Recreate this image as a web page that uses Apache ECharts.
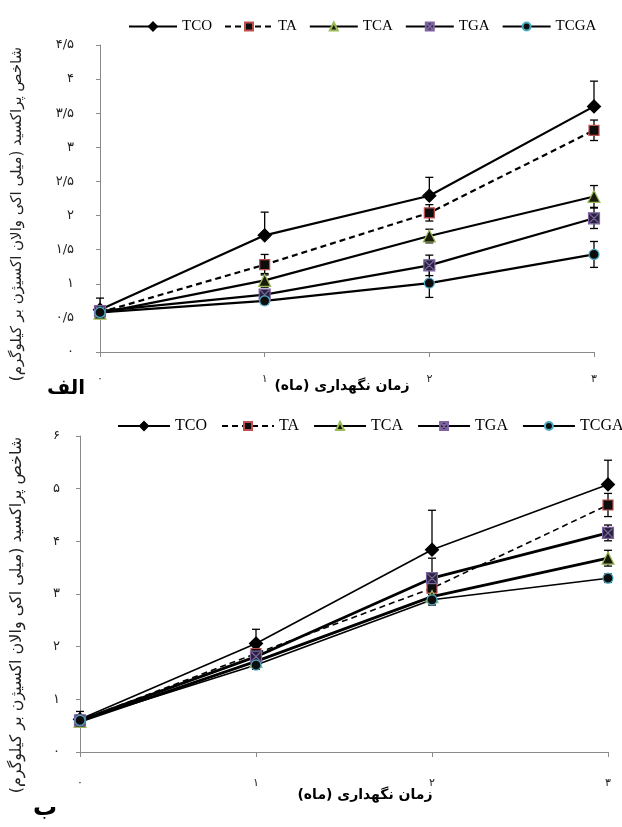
<!DOCTYPE html>
<html><head><meta charset="utf-8">
<script src="https://cdn.jsdelivr.net/npm/echarts@6/dist/echarts.min.js"></script>
<style>html,body{margin:0;padding:0;background:#fff}#c{width:622px;height:827px}</style>
</head><body><div id="c"></div>
<script>
// ---------- data ----------
const months = [0, 1, 2, 3];
const xTickLabels = ['۰', '۱', '۲', '۳'];
const yTickLabelsA = ['۰', '۰/۵', '۱', '۱/۵', '۲', '۲/۵', '۳', '۳/۵', '۴', '۴/۵'];
const yTickLabelsB = ['۰', '۱', '۲', '۳', '۴', '۵', '۶'];
const seriesNames = ['TCO', 'TA', 'TCA', 'TGA', 'TCGA'];

const yTitle = 'شاخص پراکسید (میلی اکی والان اکسیژن بر کیلوگرم)';
const xTitle = 'زمان نگهداری (ماه)';
const panelLabels = ['الف', 'ب'];

// panel A (الف)
const a_TCO = [0.62, 1.71, 2.29, 3.60];
const a_TA = [0.58, 1.28, 2.04, 3.25];
const a_TCA = [0.57, 1.05, 1.70, 2.28];
const a_TGA = [0.60, 0.84, 1.27, 1.96];
const a_TCGA = [0.58, 0.75, 1.01, 1.43];
const a_TCO_err = [0.17, 0.34, 0.27, 0.37];
const a_TA_err = [0.08, 0.15, 0.12, 0.15];
const a_TCA_err = [0.06, 0.10, 0.10, 0.16];
const a_TGA_err = [0.05, 0.05, 0.15, 0.15];
const a_TCGA_err = [0.05, 0.05, 0.21, 0.19];

// panel B (ب)
const b_TCO = [0.62, 2.06, 3.84, 5.08];
const b_TA = [0.60, 1.87, 3.11, 4.69];
const b_TCA = [0.58, 1.72, 2.95, 3.68];
const b_TGA = [0.60, 1.81, 3.30, 4.16];
const b_TCGA = [0.60, 1.65, 2.89, 3.30];
const b_TCO_err = [0.15, 0.27, 0.75, 0.46];
const b_TA_err = [0.10, 0.10, 0.20, 0.22];
const b_TCA_err = [0.05, 0.08, 0.10, 0.15];
const b_TGA_err = [0.05, 0.10, 0.38, 0.15];
const b_TCGA_err = [0.05, 0.08, 0.10, 0.08];

// ---------- styles ----------
const FA = 'DejaVu Sans';
const TGA_SYMBOL = 'path://M0,0L10,0L10,10L0,10Z M1,1L9,9 M9,1L1,9';
const markerStyle = {
  TCO: { symbol: 'diamond', size: 13, color: '#000', border: '#000' },
  TA: { symbol: 'rect', size: 10, color: '#0d0d0d', border: '#c0504d' },
  TCA: { symbol: 'triangle', size: 12, color: '#1a1a0a', border: '#9bbb59' },
  TGA: { symbol: TGA_SYMBOL, size: 11, color: '#26243a', border: '#8064a2' },
  TCGA: { symbol: 'circle', size: 10, color: '#0d0d0d', border: '#4bacc6' }
};
const upOnly = { TCO: true };

const panels = [
  { vals: [a_TCO, a_TA, a_TCA, a_TGA, a_TCGA], errs: [a_TCO_err, a_TA_err, a_TCA_err, a_TGA_err, a_TCGA_err],
    widths: [2.2, 2.2, 2.2, 2.2, 2.2] },
  { vals: [b_TCO, b_TA, b_TCA, b_TGA, b_TCGA], errs: [b_TCO_err, b_TA_err, b_TCA_err, b_TGA_err, b_TCGA_err],
    widths: [1.6, 1.6, 2.8, 2.8, 1.6] }
];

const series = [];
panels.forEach((p, gi) => {
  seriesNames.forEach((name, si) => {
    const vals = p.vals[si], errs = p.errs[si];
    const uo = !!upOnly[name];
    series.push({
      type: 'custom', name: name + '_err' + gi, xAxisIndex: gi, yAxisIndex: gi, silent: true, z: 2,
      data: months.map((m, i) => [m, vals[i], errs[i]]),
      encode: { x: 0, y: 1 },
      renderItem: (params, api) => {
        const x = api.value(0), y = api.value(1), e = api.value(2);
        const top = api.coord([x, y + e]);
        const bot = api.coord([x, uo ? y : y - e]);
        const st = { stroke: '#000', lineWidth: 1.3 };
        const ch = [
          { type: 'line', shape: { x1: top[0], y1: top[1], x2: bot[0], y2: bot[1] }, style: st },
          { type: 'line', shape: { x1: top[0] - 4, y1: top[1], x2: top[0] + 4, y2: top[1] }, style: st }
        ];
        if (!uo) ch.push({ type: 'line', shape: { x1: bot[0] - 4, y1: bot[1], x2: bot[0] + 4, y2: bot[1] }, style: st });
        return { type: 'group', children: ch };
      }
    });
  });
  seriesNames.forEach((name, si) => {
    const ms = markerStyle[name];
    series.push({
      type: 'line', name: name, xAxisIndex: gi, yAxisIndex: gi, z: 3,
      data: months.map((m, i) => [m, p.vals[si][i]]),
      symbol: ms.symbol, symbolSize: ms.size, showAllSymbol: true,
      lineStyle: { color: '#000', width: p.widths[si], type: name === 'TA' ? [6, 4] : 'solid' },
      itemStyle: { color: ms.color, borderColor: ms.border, borderWidth: 1.2 },
      emphasis: { disabled: true }, animation: false
    });
  });
});

const axisGrey = '#8a8a8a';
function xAxis(gi, margin) {
  return {
    type: 'value', gridIndex: gi, min: 0, max: 3, interval: 1,
    axisLine: { lineStyle: { color: axisGrey, width: 1 } },
    axisTick: { show: true, length: 5, lineStyle: { color: axisGrey } },
    splitLine: { show: false },
    axisLabel: { margin: margin, fontFamily: FA, fontSize: 11, color: '#222',
      formatter: v => xTickLabels[Math.round(v)] }
  };
}
function yAxis(gi, max, interval, labels, margin) {
  return {
    type: 'value', gridIndex: gi, min: 0, max: max, interval: interval,
    axisLine: { show: true, lineStyle: { color: axisGrey, width: 1 } },
    axisTick: { show: true, length: 4, lineStyle: { color: axisGrey } },
    splitLine: { show: false },
    axisLabel: { margin: margin, fontFamily: FA, fontSize: 13, color: '#222',
      formatter: v => labels[Math.round(v / interval)] }
  };
}

const legendText = { fontFamily: 'Liberation Serif', color: '#000' };
const option = {
  backgroundColor: '#fff',
  animation: false,
  grid: [
    { left: 100, right: 28, top: 45, bottom: 475 },
    { left: 80, right: 14, top: 436, bottom: 75 }
  ],
  xAxis: [xAxis(0, 22), xAxis(1, 26)],
  yAxis: [yAxis(0, 4.5, 0.5, yTickLabelsA, 26), yAxis(1, 6, 1, yTickLabelsB, 20)],
  legend: [
    { data: seriesNames, left: 123, top: 14, width: 600, itemWidth: 48, itemHeight: 10, itemGap: 12,
      textStyle: Object.assign({ fontSize: 15 }, legendText), selectedMode: false },
    { data: seriesNames, left: 112, top: 413, width: 620, itemWidth: 52, itemHeight: 10, itemGap: 14,
      textStyle: Object.assign({ fontSize: 16 }, legendText), selectedMode: false }
  ],
  graphic: [
    { type: 'text', x: 17, y: 214, rotation: Math.PI / 2,
      style: { text: yTitle, font: '15px "DejaVu Sans"', fill: '#222', align: 'center', verticalAlign: 'middle' } },
    { type: 'text', x: 17, y: 615, rotation: Math.PI / 2,
      style: { text: yTitle, font: '16px "DejaVu Sans"', fill: '#222', align: 'center', verticalAlign: 'middle' } },
    { type: 'text', x: 342, y: 386,
      style: { text: xTitle, font: 'bold 14px "DejaVu Sans"', fill: '#000', align: 'center', verticalAlign: 'middle' } },
    { type: 'text', x: 365, y: 795,
      style: { text: xTitle, font: 'bold 14px "DejaVu Sans"', fill: '#000', align: 'center', verticalAlign: 'middle' } },
    { type: 'text', x: 66, y: 389,
      style: { text: panelLabels[0], font: 'bold 20px "DejaVu Sans"', fill: '#000', align: 'center', verticalAlign: 'middle' } },
    { type: 'text', x: 45, y: 809,
      style: { text: panelLabels[1], font: 'bold 24px "DejaVu Sans"', fill: '#000', align: 'center', verticalAlign: 'middle' } }
  ],
  series: series
};
const chart = echarts.init(document.getElementById('c'), null, { renderer: 'canvas' });
chart.setOption(option);
</script>
</body></html>
